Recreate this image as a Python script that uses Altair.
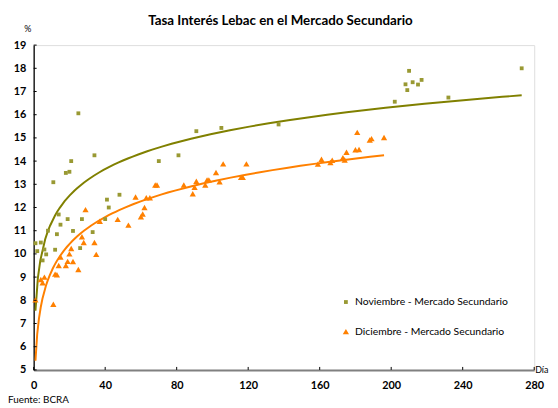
import altair as alt
import pandas as pd

# ---- data ----
nov_dias = [1, 2, 4, 5, 6, 7, 8, 11, 12, 13, 14, 15, 18, 19, 20, 21, 22, 25, 26, 27,
            33, 34, 40, 41, 42, 48, 70, 81, 91, 105, 137, 202, 208, 209, 210, 212,
            215, 217, 232, 273]
nov_tasa = [10.46, 10.12, 10.49, 9.72, 10.19, 9.98, 11.0, 13.09, 10.18, 10.85, 11.7,
            11.26, 13.49, 11.5, 13.54, 14.0, 10.99, 16.06, 10.25, 11.5, 10.94, 14.25,
            11.5, 12.34, 12.0, 12.55, 14.0, 14.25, 15.29, 15.43, 15.58, 16.56, 17.31,
            17.06, 17.89, 17.4, 17.3, 17.5, 16.74, 18.0]

dic_dias = [1, 4, 5, 6, 11, 12, 13, 14, 15, 18, 19, 20, 21, 22, 25, 27, 28, 29, 34,
            35, 37, 47, 53, 57, 60, 61, 62, 63, 65, 68, 69, 84, 89, 90, 91, 96, 97,
            98, 102, 104, 106, 116, 117, 119, 159, 161, 166, 167, 173, 174, 175, 180,
            181, 182, 188, 189, 196]
dic_tasa = [8.02, 8.9, 8.76, 9.0, 7.83, 9.13, 9.1, 9.5, 9.87, 9.5, 9.68, 10.0, 10.23,
            9.67, 9.33, 10.74, 10.49, 11.91, 10.49, 9.98, 11.41, 11.49, 11.24, 12.45,
            11.6, 11.72, 12.0, 12.42, 12.42, 12.97, 12.97, 12.97, 12.59, 12.87, 13.13,
            12.97, 13.19, 13.19, 13.51, 13.11, 13.88, 13.3, 13.3, 13.88, 13.87, 14.08,
            13.94, 14.04, 14.15, 14.05, 14.38, 14.49, 15.24, 14.5, 14.91, 14.97, 15.02]

series = ["Noviembre - Mercado Secundario", "Diciembre - Mercado Secundario"]
x_ticks = [0, 40, 80, 120, 160, 200, 240, 280]
y_ticks = list(range(5, 20))

titulo = "Tasa Interés Lebac en el Mercado Secundario"
fuente = "Fuente: BCRA"

FONT = "Lato"
W, H = 507, 329

df = pd.concat([
    pd.DataFrame({"dia": nov_dias, "tasa": nov_tasa, "serie": series[0]}),
    pd.DataFrame({"dia": dic_dias, "tasa": dic_tasa, "serie": series[1]}),
], ignore_index=True)

xscale = alt.Scale(domain=[0, 280], nice=False, zero=False)
yscale = alt.Scale(domain=[5, 19], nice=False, zero=False)

xaxis = alt.Axis(values=x_ticks, title=None, grid=False, ticks=False,
                 domainColor="#808080", domainWidth=2, labelFont=FONT,
                 labelFontWeight="bold", labelFontSize=11, labelColor="#000",
                 labelPadding=10, labelFlush=False, labelOverlap=False)
yaxis = alt.Axis(values=y_ticks, title=None, grid=False, ticks=False,
                 domainColor="#000", domainWidth=1.3, labelFont=FONT,
                 labelFontWeight="bold", labelFontSize=11, labelColor="#000",
                 labelPadding=8, labelFlush=False, labelOverlap=False)

X = alt.X("dia:Q", scale=xscale, axis=xaxis)
Y = alt.Y("tasa:Q", scale=yscale, axis=yaxis)

base = alt.Chart(df)

points = base.mark_point(filled=True, opacity=1).encode(
    x=X, y=Y,
    color=alt.Color("serie:N", scale=alt.Scale(domain=series, range=["#999933", "#ff8000"]),
                    legend=alt.Legend(title=None, orient="none", legendX=311, legendY=255,
                                      labelFont=FONT, labelFontSize=10.5, labelColor="#000",
                                      symbolSize=28, rowPadding=19, labelOffset=4)),
    shape=alt.Shape("serie:N", scale=alt.Scale(domain=series, range=["square", "triangle-up"])),
    size=alt.Size("serie:N", scale=alt.Scale(domain=series, range=[15, 40]), legend=None),
)

line_nov = base.transform_filter(alt.datum.serie == series[0]).transform_regression(
    "dia", "tasa", method="log", extent=[1, 273]
).mark_line(color="#808000", strokeWidth=2).encode(x=X, y=Y)

line_dic = base.transform_filter(alt.datum.serie == series[1]).transform_regression(
    "dia", "tasa", method="log", extent=[1, 196]
).mark_line(color="#ff8000", strokeWidth=2).encode(x=X, y=Y)

yt = alt.Chart(pd.DataFrame({"tasa": y_ticks})).mark_rule(color="#000", strokeWidth=1).encode(
    y=Y, x=alt.value(0), x2=alt.value(3))
xt = alt.Chart(pd.DataFrame({"dia": x_ticks})).mark_rule(color="#000", strokeWidth=1).encode(
    x=X, y=alt.value(H), y2=alt.value(H - 3))

def label(txt, x, y, size, weight="normal", align="left", baseline="alphabetic"):
    return alt.Chart(pd.DataFrame({"t": [txt]})).mark_text(
        font=FONT, fontSize=size, fontWeight=weight, align=align, baseline=baseline,
        color="#000").encode(text="t:N", x=alt.value(x), y=alt.value(y))

t_title = label(titulo, 250, -20, 13.5, "bold", "center")
t_pct = label("%", -6, -13, 9, align="center")
t_dia = label("Día", 508, H + 3, 9)
t_src = label(fuente, -26, 363, 10)

chart = alt.layer(line_nov, line_dic, points, yt, xt, t_title, t_pct, t_dia, t_src).properties(
    width=W, height=H,
    autosize=alt.AutoSizeParams(type="none"),
    padding={"left": 26, "top": 35, "right": 16, "bottom": 36},
).configure_view(stroke=None).configure(background="white")

chart.save("out.html", embed_options={"renderer": "svg", "actions": False})
